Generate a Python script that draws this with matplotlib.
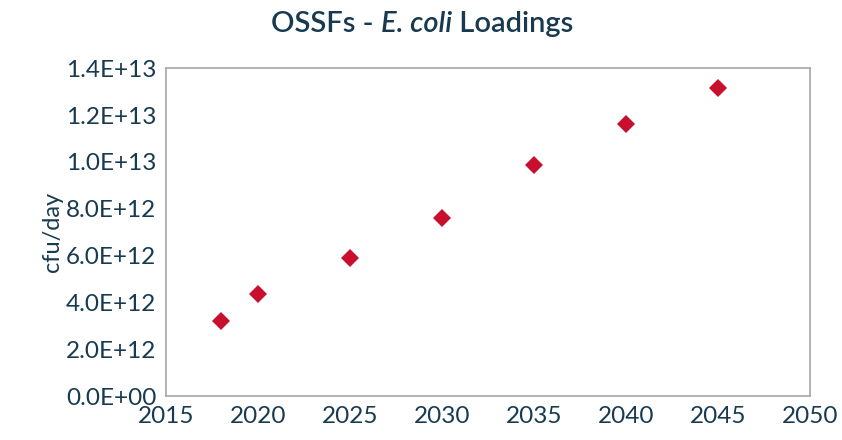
import matplotlib
matplotlib.use("Agg")
import matplotlib.pyplot as plt
from matplotlib.ticker import FuncFormatter

years = [2018, 2020, 2025, 2030, 2035, 2040, 2045]
loadings = [3.2e12, 4.35e12, 5.9e12, 7.6e12, 9.85e12, 11.6e12, 13.15e12]
title_parts = [('OSSFs - ', 'normal'), ('E. coli', 'italic'), (' Loadings', 'normal')]

TEXT = '#173a50'
plt.rcParams['font.family'] = ['Lato', 'DejaVu Sans']

fig = plt.figure(figsize=(8.42, 4.40), dpi=100)
ax = fig.add_axes([0.197, 0.10, 0.765, 0.745])

ax.plot(years, loadings, 'D', color='#c8102e', markersize=8.7, markeredgewidth=0)

ax.set_xlim(2015, 2050)
ax.set_ylim(0, 1.4e13)
ax.set_xticks(range(2015, 2051, 5))
ax.set_yticks([i * 2e12 for i in range(8)])
ax.yaxis.set_major_formatter(FuncFormatter(lambda v, p: f"{v:.1E}"))

for s in ax.spines.values():
    s.set_color('#a6a6a6')
    s.set_linewidth(1.2)
ax.tick_params(length=0, labelsize=17.5, colors=TEXT, pad=7)
ax.set_ylabel('cfu/day', fontsize=17, color=TEXT, labelpad=2)

# title in pieces so only "E. coli" is italic
fig.canvas.draw()
r = fig.canvas.get_renderer()
texts = []
for s, st in title_parts:
    t = fig.text(0, 0.945, s, fontsize=21, color=TEXT, style=st, va='center', fontweight='semibold')
    texts.append(t)
widths = [t.get_window_extent(r).width for t in texts]
x = (fig.bbox.width * 0.501) - sum(widths) / 2
for t, w in zip(texts, widths):
    t.set_x(x / fig.bbox.width)
    x += w

fig.savefig('out.png', dpi=100)
